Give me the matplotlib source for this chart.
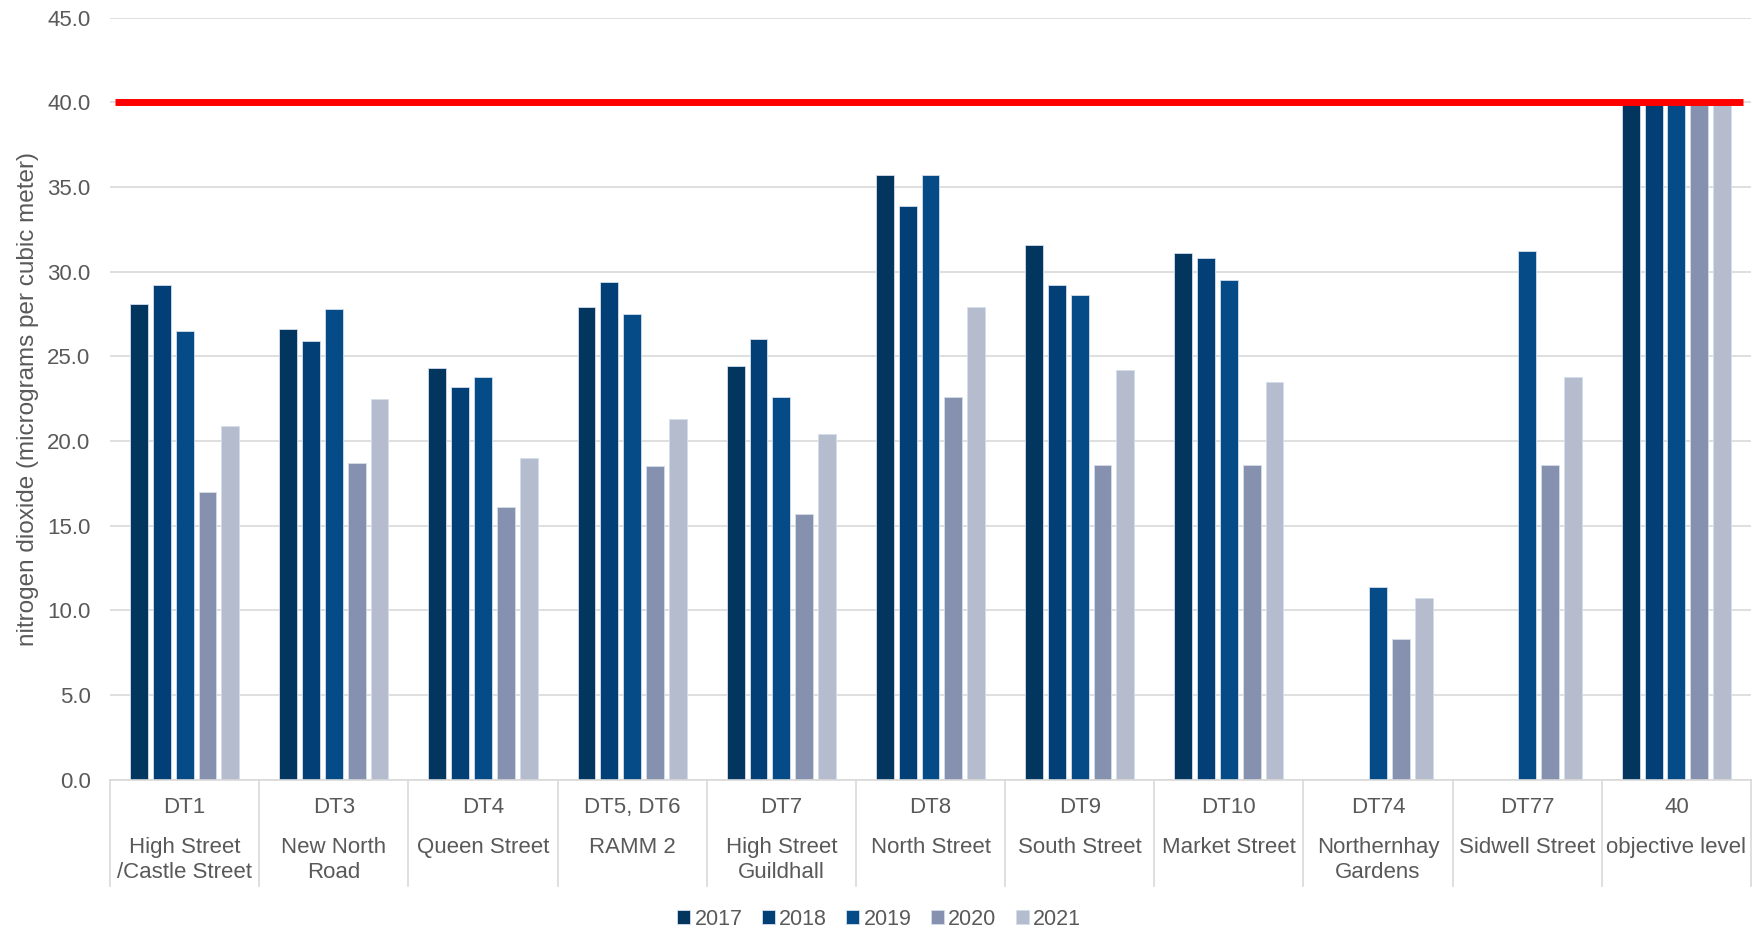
import numpy as np
import matplotlib.pyplot as plt

plt.rcParams['font.family'] = ['Liberation Sans', 'DejaVu Sans']

# monitoring sites: diffusion tube code and street name
codes = ['DT1', 'DT3', 'DT4', 'DT5, DT6', 'DT7', 'DT8', 'DT9', 'DT10',
         'DT74', 'DT77', '40']
names = ['High Street\n/Castle Street', 'New North\nRoad', 'Queen Street',
         'RAMM 2', 'High Street\nGuildhall', 'North Street', 'South Street',
         'Market Street', 'Northernhay\nGardens', 'Sidwell Street',
         'objective level']

years = ['2017', '2018', '2019', '2020', '2021']

# annual mean NO2, ug/m3 (nan = no measurement that year)
no2_2017 = [28.1, 26.6, 24.3, 27.9, 24.4, 35.7, 31.6, 31.1, np.nan, np.nan, 40.0]
no2_2018 = [29.2, 25.9, 23.2, 29.4, 26.0, 33.9, 29.2, 30.8, np.nan, np.nan, 40.0]
no2_2019 = [26.5, 27.8, 23.8, 27.5, 22.6, 35.7, 28.6, 29.5, 11.4, 31.2, 40.0]
no2_2020 = [17.0, 18.7, 16.1, 18.5, 15.7, 22.6, 18.6, 18.6, 8.3, 18.6, 40.0]
no2_2021 = [20.9, 22.5, 19.0, 21.3, 20.4, 27.9, 24.2, 23.5, 10.7, 23.8, 40.0]
series = [no2_2017, no2_2018, no2_2019, no2_2020, no2_2021]

objective = 40.0

colors = ['#02365f', '#033f77', '#054b87', '#8591ae', '#b5bccd']
grey = '#595959'

fig = plt.figure(figsize=(17.58, 9.36), dpi=100)
ax = fig.add_axes([0.0626, 0.1672, 0.9334, 0.8138])

x = np.arange(len(codes))
step = 0.153
width = 0.12
for i, (yr, vals) in enumerate(zip(years, series)):
    ax.bar(x + (i - 2) * step, vals, width, color=colors[i], label=yr,
           edgecolor='#d4deeb', linewidth=0.6, zorder=2)

# objective line
ax.hlines(objective, -0.466, 10.445, color='#ff0000', linewidth=5, zorder=3)

ax.set_xlim(-0.5, len(codes) - 0.5)
ax.set_ylim(0, 45)
ax.set_yticks(np.arange(0, 46, 5))
ax.set_yticklabels(['%.1f' % v for v in np.arange(0, 46, 5)])
ax.tick_params(axis='y', length=0, labelsize=16, labelcolor=grey, pad=14)
ax.set_xticks([])
ax.grid(axis='y', color='#d9d9d9', linewidth=1.2, zorder=0)
ax.set_axisbelow(True)
for s in ['top', 'right', 'left']:
    ax.spines[s].set_visible(False)
ax.spines['bottom'].set_color('#d9d9d9')
ax.spines['bottom'].set_linewidth(1.2)

ax.set_ylabel('nitrogen dioxide (micrograms per cubic meter)', fontsize=17.5,
              color=grey, labelpad=6)

# two-level category labels with separators
tr = ax.get_xaxis_transform()
for xi, c, n in zip(x, codes, names):
    ax.text(xi, -0.037, c, transform=tr, ha='center', va='center',
            fontsize=16, color=grey)
    ax.text(xi, -0.076, n, transform=tr, ha='center', va='top',
            fontsize=16, color=grey, linespacing=1.2)
for b in np.arange(-0.5, len(codes), 1.0):
    ax.plot([b, b], [0, -0.14], transform=tr, color='#d9d9d9',
            linewidth=1.2, clip_on=False)

fig.legend(loc='center', bbox_to_anchor=(0.5, 0.018), ncol=5,
           frameon=False, fontsize=15.5, labelcolor=grey, handlelength=0.6,
           handleheight=0.6, handletextpad=0.2, columnspacing=0.9)

fig.savefig('out.png', dpi=100)
